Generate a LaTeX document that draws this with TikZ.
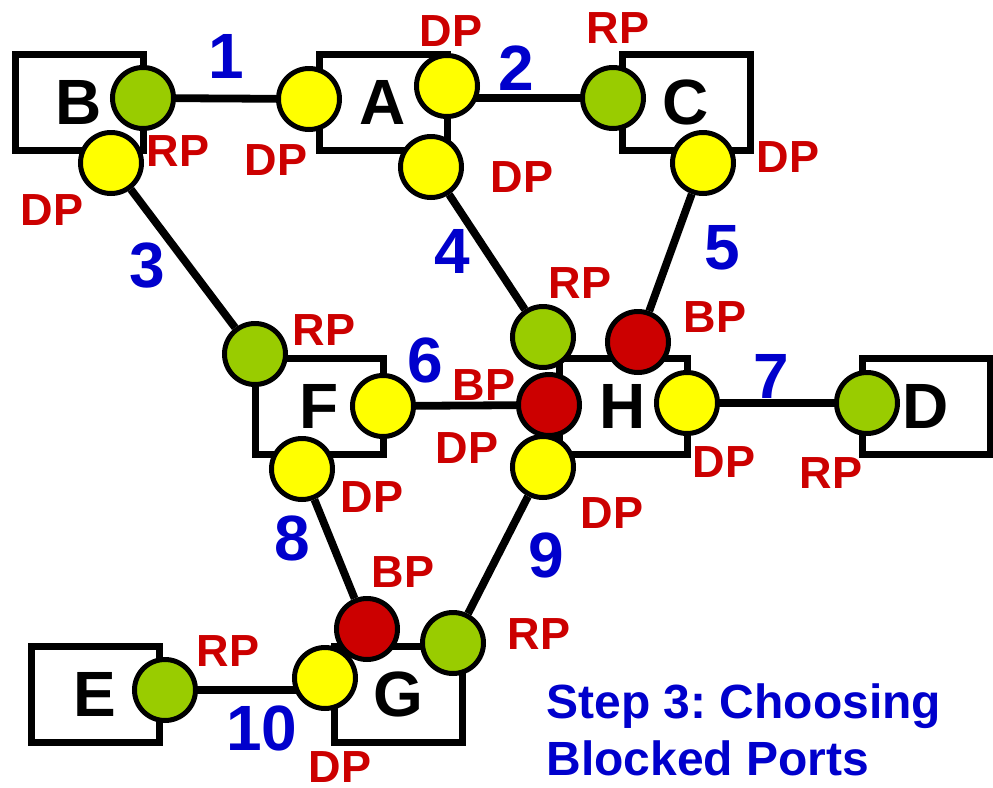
\documentclass[tikz,border=0pt]{standalone}
\usepackage{fontspec}
\setmainfont{Liberation Sans}
\usepackage{tikz}
\usetikzlibrary{calc,backgrounds}
\definecolor{portGreen}{HTML}{99CC00}
\definecolor{portYellow}{HTML}{FFFF00}
\definecolor{portRed}{HTML}{CC0000}
\definecolor{labRed}{HTML}{CC0000}
\definecolor{numBlue}{HTML}{0000CC}
\tikzset{
  sw/.style={draw, line width=3.5pt, minimum width=64pt, minimum height=48pt, inner sep=0pt, font=\fontsize{32}{36}\selectfont\bfseries},
  port/.style={circle, draw, line width=2.5pt, minimum size=30.5pt, inner sep=0pt, fill=#1},
  link/.style={line width=3.9pt},
  plab/.style={text=labRed, inner sep=0pt, font=\fontsize{22.5}{26}\selectfont\bfseries},
  lnum/.style={text=numBlue, inner sep=0pt, font=\fontsize{32}{36}\selectfont\bfseries},
}

\begin{document}
\frenchspacing
\begin{tikzpicture}[x=0.5pt, y=-0.5pt]
\useasboundingbox (0,0) rectangle (993,788);
% switches
\node[sw] (B) at (79,102) {B};
\node[sw] (A) at (383,102) {A};
\node[sw] (C) at (686,102) {C};
\node[sw] (F) at (319,406) {F};
\node[sw] (H) at (623,406) {H};
\node[sw] (D) at (926,406) {D};
\node[sw] (E) at (95,694) {E};
\node[sw] (G) at (398,694) {G};
% ports
\node[port=portGreen] (b1) at (143,98) {};
\node[port=portYellow] (a1) at (309,99) {};
\node[port=portYellow] (a2) at (447,86) {};
\node[port=portGreen] (c2) at (613,98) {};
\node[port=portYellow] (b3) at (111,163) {};
\node[port=portGreen] (f3) at (255,354) {};
\node[port=portYellow] (a4) at (431,167) {};
\node[port=portGreen] (h4) at (543,337) {};
\node[port=portYellow] (c5) at (703,163) {};
\node[port=portYellow] (f6) at (383,406) {};
\node[port=portYellow] (h7) at (687,403) {};
\node[port=portGreen] (d7) at (867,403) {};
\node[port=portYellow] (f8) at (302,469) {};
\node[port=portYellow] (h9) at (543,467) {};
\node[port=portGreen] (g9) at (453,643) {};
\node[port=portGreen] (e10) at (165,690) {};
\node[port=portYellow] (g10) at (325,678) {};
\node[port=portRed] (h5) at (638,342) {};
\node[port=portRed] (h6) at (549,405) {};
\node[port=portRed] (g8) at (367,629) {};
% links
\begin{pgfonlayer}{background}
\draw[link] (b1) -- (a1);
\draw[link] (a2 |- c2) -- (c2);
\draw[link] (b3) -- (f3);
\draw[link] (a4) -- (h4);
\draw[link] (c5) -- (h5);
\draw[link] (f6) -- (h6);
\draw[link] (h7) -- (d7);
\draw[link] (f8) -- (g8);
\draw[link] (h9) -- (g9);
\draw[link] (e10) -- (e10 -| g10);
\end{pgfonlayer}
% link numbers
\node[lnum] (n1) at (226,56) {1};
\node[lnum] (n2) at (516,68) {2};
\node[lnum] (n3) at (147,266) {3};
\node[lnum] (n4) at (452,251) {4};
\node[lnum] (n5) at (722,248) {5};
\node[lnum] (n6) at (425,360) {6};
\node[lnum] (n7) at (771,376) {7};
\node[lnum] (n8) at (292,538) {8};
\node[lnum] (n9) at (546,555) {9};
\node[lnum] (n10) at (262,728) {10};
% port roles
\node[plab] (lb1) at (178,151) {RP};
\node[plab] (lb3) at (52,210) {DP};
\node[plab] (la2) at (451,31) {DP};
\node[plab] (la1) at (276,160) {DP};
\node[plab] (la4) at (522,177) {DP};
\node[plab] (lc2) at (618,28) {RP};
\node[plab] (lc5) at (788,157) {DP};
\node[plab] (lf3) at (324,330) {RP};
\node[plab] (lh6) at (484,385) {BP};
\node[plab] (lf6) at (467,448) {DP};
\node[plab] (lf8) at (372,497) {DP};
\node[plab] (lh4) at (580,283) {RP};
\node[plab] (lh5) at (715,317) {BP};
\node[plab] (lh7) at (724,462) {DP};
\node[plab] (ld7) at (831,473) {RP};
\node[plab] (lh9) at (612,513) {DP};
\node[plab] (lg8) at (403,572) {BP};
\node[plab] (lg9) at (539,634) {RP};
\node[plab] (lg10) at (340,767) {DP};
\node[plab] (le10) at (228,651) {RP};
% caption
\node[anchor=north west, align=left, text=numBlue, inner sep=0pt, font=\fontsize{24}{28.5}\selectfont\bfseries] (step) at (546,683) {Step 3: Choosing\\Blocked Ports};
\end{tikzpicture}
\end{document}
